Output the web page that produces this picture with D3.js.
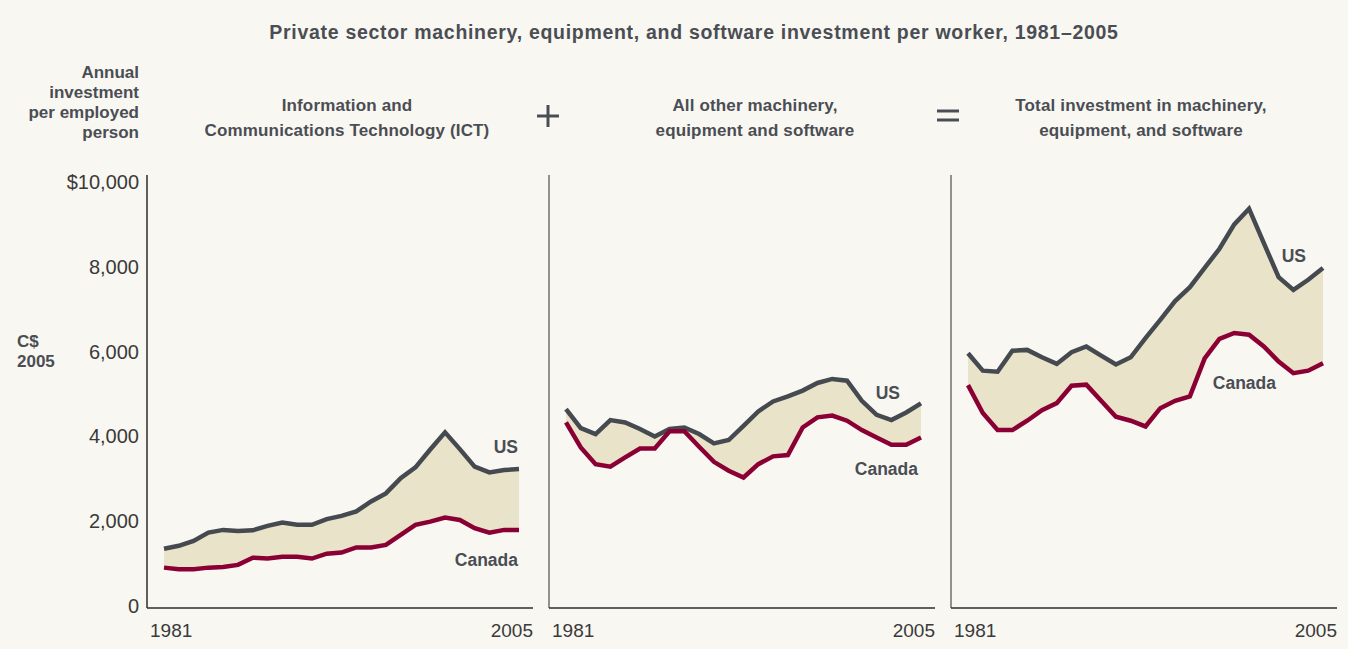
<!DOCTYPE html>
<html>
<head>
<meta charset="utf-8">
<script src="https://cdn.jsdelivr.net/npm/d3@7"></script>
<style>
  html, body { margin: 0; padding: 0; background: #f9f7f1; }
  svg { display: block; font-family: "Liberation Sans", Arial, sans-serif; }
  .title { font-weight: bold; font-size: 19.5px; letter-spacing: 0.7px; fill: #4a4e54; }
  .panel-title { font-weight: bold; font-size: 17px; letter-spacing: 0.15px; fill: #4a4e54; }
  .unit-label { font-weight: bold; font-size: 17px; fill: #4a4e54; }
  .tick text { font-size: 20px; fill: #3a3a3a; }
  .year-label { font-size: 19px; fill: #3a3a3a; }
  .series-label { font-weight: bold; font-size: 17.5px; fill: #4a4e54; }
  .gap-area { fill: #e9e4c9; }
  .line-us { fill: none; stroke: #454a50; stroke-width: 4.5; }
  .line-ca { fill: none; stroke: #8a0034; stroke-width: 4.5; }
  .op { stroke: #4a4e54; stroke-width: 3; }
</style>
</head>
<body>
<svg id="chart" width="1348" height="649"></svg>
<script>
// years on the x axis
const years = d3.range(1981, 2006);

// ICT investment per worker (C$ 2005)
const ict_us = [1350, 1420, 1535, 1730, 1795, 1770, 1785, 1890, 1970, 1915, 1915, 2050, 2125,
                2230, 2465, 2655, 3015, 3270, 3690, 4095, 3700, 3285, 3150, 3205, 3230];
const ict_ca = [905, 865, 865, 905, 920, 970, 1140, 1120, 1160, 1160, 1120, 1235, 1260,
                1380, 1380, 1440, 1675, 1915, 1990, 2085, 2030, 1835, 1730, 1795, 1795];

// all other machinery, equipment and software
const other_us = [4645, 4195, 4055, 4385, 4330, 4175, 4000, 4175, 4210, 4055, 3835, 3915, 4250,
                  4590, 4825, 4945, 5080, 5260, 5355, 5315, 4840, 4510, 4385, 4565, 4780];
const other_ca = [4330, 3740, 3345, 3285, 3505, 3715, 3715, 4120, 4120, 3755, 3400, 3190, 3030,
                  3345, 3530, 3560, 4210, 4450, 4490, 4370, 4150, 3975, 3805, 3805, 3975];

// total machinery, equipment and software
const total_us = [5960, 5550, 5525, 6020, 6040, 5865, 5710, 5985, 6120, 5905, 5695, 5865, 6315,
                  6750, 7190, 7520, 7975, 8425, 9000, 9370, 8560, 7755, 7455, 7695, 7970];
const total_ca = [5210, 4550, 4150, 4150, 4370, 4620, 4785, 5195, 5220, 4840, 4465, 4370, 4235,
                  4665, 4840, 4945, 5840, 6300, 6440, 6400, 6120, 5765, 5490, 5550, 5725];

const y_ticks = [0, 2000, 4000, 6000, 8000, 10000];

const svg = d3.select("#chart");

// panels: left edge of each axis, title lines, label spots
const panels = [
    { left: 147, titleX: 347, title: ["Information and", "Communications Technology (ICT)"], us: ict_us, ca: ict_ca,
      usLabel: [518, 453], caLabel: [518, 566], axisColor: "#2e2e2e" },
    { left: 549, titleX: 755, title: ["All other machinery,", "equipment and software"], us: other_us, ca: other_ca,
      usLabel: [900, 399], caLabel: [918, 475], axisColor: "#6f6f6f" },
    { left: 951, titleX: 1141, title: ["Total investment in machinery,", "equipment, and software"], us: total_us, ca: total_ca,
      usLabel: [1306, 262], caLabel: [1276, 389], axisColor: "#6f6f6f" }
];

const panel_w = 386,
      y = d3.scaleLinear().domain([0, 10000]).range([606, 182]);

// chart title
svg.append("text")
    .attr("class", "title")
    .attr("x", 694)
    .attr("y", 39)
    .attr("text-anchor", "middle")
    .text("Private sector machinery, equipment, and software investment per worker, 1981\u20132005");

// unit label top-left
svg.append("text")
    .attr("class", "unit-label")
    .attr("text-anchor", "end")
    .selectAll("tspan")
    .data(["Annual", "investment", "per employed", "person"])
    .join("tspan")
    .attr("x", 139)
    .attr("y", (d, i) => 78 + i * 20)
    .text(d => d);

svg.append("text")
    .attr("class", "unit-label")
    .selectAll("tspan")
    .data(["C$", "2005"])
    .join("tspan")
    .attr("x", 17)
    .attr("y", (d, i) => 347 + i * 20)
    .text(d => d);

// y axis (panel 1 only)
const yAxis = svg.append("g")
    .attr("transform", `translate(${panels[0].left},0)`)
    .call(d3.axisLeft(y).tickValues(y_ticks).tickSize(0).tickPadding(8)
        .tickFormat(d => d === 10000 ? "$10,000" : d3.format(",")(d)));
yAxis.select(".domain").remove();

// plus and equals signs between panels
svg.append("line").attr("class", "op").attr("x1", 537).attr("x2", 559).attr("y1", 116).attr("y2", 116);
svg.append("line").attr("class", "op").attr("x1", 548).attr("x2", 548).attr("y1", 105).attr("y2", 127);
svg.append("line").attr("class", "op").attr("x1", 937).attr("x2", 959).attr("y1", 111).attr("y2", 111);
svg.append("line").attr("class", "op").attr("x1", 937).attr("x2", 959).attr("y1", 120).attr("y2", 120);

panels.forEach(p => {
    const x = d3.scaleLinear().domain([1981, 2005]).range([p.left + 17, p.left + 372]);
    const g = svg.append("g");

    // panel title
    g.append("text")
        .attr("class", "panel-title")
        .attr("text-anchor", "middle")
        .selectAll("tspan")
        .data(p.title)
        .join("tspan")
        .attr("x", p.titleX)
        .attr("y", (d, i) => 111 + i * 25)
        .text(d => d);

    const pts = years.map((yr, i) => ({ year: yr, us: p.us[i], ca: p.ca[i] }));

    g.append("path")
        .datum(pts)
        .attr("class", "gap-area")
        .attr("d", d3.area().x(d => x(d.year)).y0(d => y(d.ca)).y1(d => y(d.us)));

    g.append("path")
        .datum(pts)
        .attr("class", "line-us")
        .attr("d", d3.line().x(d => x(d.year)).y(d => y(d.us)));

    g.append("path")
        .datum(pts)
        .attr("class", "line-ca")
        .attr("d", d3.line().x(d => x(d.year)).y(d => y(d.ca)));

    // axes lines
    g.append("line")
        .attr("x1", p.left).attr("x2", p.left)
        .attr("y1", 175).attr("y2", 608)
        .attr("stroke", p.axisColor).attr("stroke-width", 1.5);
    g.append("line")
        .attr("x1", p.left).attr("x2", p.left + panel_w)
        .attr("y1", 608).attr("y2", 608)
        .attr("stroke", "#2e2e2e").attr("stroke-width", 1.3);

    // year labels
    g.append("text")
        .attr("class", "year-label")
        .attr("x", x(1981) - 14)
        .attr("y", 637)
        .text("1981");
    g.append("text")
        .attr("class", "year-label")
        .attr("x", p.left + panel_w)
        .attr("y", 637)
        .attr("text-anchor", "end")
        .text("2005");

    // series labels
    g.append("text")
        .attr("class", "series-label")
        .attr("x", p.usLabel[0]).attr("y", p.usLabel[1])
        .attr("text-anchor", "end")
        .text("US");
    g.append("text")
        .attr("class", "series-label")
        .attr("x", p.caLabel[0]).attr("y", p.caLabel[1])
        .attr("text-anchor", "end")
        .text("Canada");
});
</script>
</body>
</html>
